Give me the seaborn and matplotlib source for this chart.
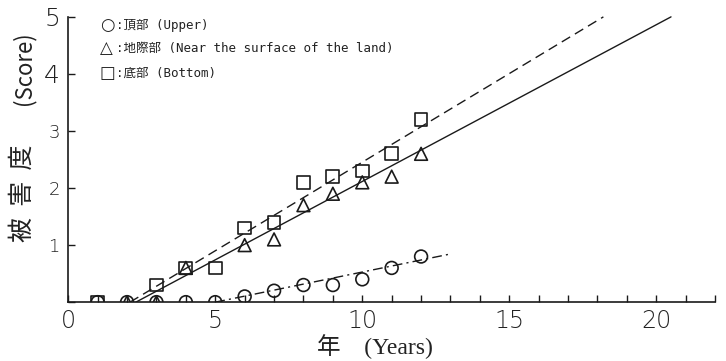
import pandas as pd
import seaborn as sns
import numpy as np
import matplotlib.pyplot as plt

# Damage score per year
years_upper = [1, 2, 3, 4, 5, 6, 7, 8, 9, 10, 11, 12]
score_upper = [0, 0, 0, 0, 0, 0.1, 0.2, 0.3, 0.3, 0.4, 0.6, 0.8]
years_land = [2, 3, 4, 6, 7, 8, 9, 10, 11, 12]
score_land = [0, 0, 0.6, 1.0, 1.1, 1.7, 1.9, 2.1, 2.2, 2.6]
years_bottom = [1, 3, 4, 5, 6, 7, 8, 9, 10, 11, 12]
score_bottom = [0, 0.3, 0.6, 0.6, 1.3, 1.4, 2.1, 2.2, 2.3, 2.6, 3.2]

# fitted regression lines (end points)
fit_upper_x = [5.0, 13.05]
fit_upper_y = [0.0, 0.85]
fit_land_x = [2.3, 20.5]
fit_land_y = [0.0, 5.0]
fit_bottom_x = [2.1, 18.2]
fit_bottom_y = [0.0, 5.0]

legend_symbols = ['○', '△', '□']
legend_texts = [':頂部 (Upper)',
                ':地際部 (Near the surface of the land)',
                ':底部 (Bottom)']

sns.set_style('ticks')
plt.rcParams['font.family'] = ['DejaVu Sans', 'Noto Sans CJK JP']

fig = plt.figure(figsize=(7.26, 3.61), dpi=100)
ax = fig.add_axes([0.094, 0.163, 0.891, 0.795])

ink = '#1a1a1a'
sns.lineplot(x=fit_bottom_x, y=fit_bottom_y, ax=ax, color=ink, lw=1.0,
             linestyle=(0, (7, 4)))
sns.lineplot(x=fit_land_x, y=fit_land_y, ax=ax, color=ink, lw=1.0)
sns.lineplot(x=fit_upper_x, y=fit_upper_y, ax=ax, color=ink, lw=1.0,
             linestyle=(0, (7, 3, 1.5, 3)))

kw = dict(ax=ax, facecolor='none', edgecolor=ink, linewidth=1.2, s=85, zorder=5)
sns.scatterplot(x=years_upper, y=score_upper, marker='o', **kw)
sns.scatterplot(x=years_land, y=score_land, marker='^', **kw)
sns.scatterplot(x=years_bottom, y=score_bottom, marker='s', **kw)

ax.set_xlim(0, 22)
ax.set_ylim(0, 5.03)
ax.spines['top'].set_visible(False)
ax.spines['right'].set_visible(False)
for s in ['left', 'bottom']:
    ax.spines[s].set_linewidth(1.2)
    ax.spines[s].set_color(ink)
ax.spines['left'].set_bounds(0, 5)

ax.set_xticks(np.arange(0, 23, 1), minor=True)
ax.set_xticks([0, 5, 10, 15, 20])
ax.set_yticks([0, 1, 2, 3, 4, 5])
ax.set_yticklabels(['', '1', '2', '3', '4', '5'])
ax.tick_params(which='both', direction='in', length=5, width=1.0, color=ink)
ax.tick_params(axis='x', labelsize=17, labelcolor='#222222', pad=5)
ax.tick_params(axis='y', labelcolor='#222222', pad=6)
for lab in ax.get_xticklabels() + ax.get_yticklabels():
    lab.set_fontweight('light')
for lab, sz in zip(ax.get_yticklabels(), [13, 13, 13, 13, 18, 18]):
    lab.set_fontsize(sz)

# axis titles
ax.set_xlabel('年　(Years)', fontsize=17, color='#222222', labelpad=0,
              family=['Liberation Serif', 'Noto Sans CJK JP'], va='center')
ax.xaxis.set_label_coords((375 - 68) / 647, -0.155)
fig.text(0.032, 1 - 68 / 361, '(Score)', rotation=90, fontsize=16,
         color='#222222', ha='center', va='center', family=['Noto Sans CJK JP'])
fig.text(0.032, 1 - 193 / 361, '被  害  度', rotation=90, fontsize=18,
         color='#222222', ha='center', va='center', family=['Noto Sans CJK JP'])

# legend written as text in the corner
for i, (sym, t) in enumerate(zip(legend_symbols, legend_texts)):
    yy = [0.965, 0.885, 0.798][i]
    ax.text(0.049, yy, sym, transform=ax.transAxes, fontsize=12,
            family=['DejaVu Sans'], color='#222222', va='center', ha='left')
    ax.text(0.074, yy, t, transform=ax.transAxes, fontsize=9.0,
            family=['DejaVu Sans Mono', 'Noto Sans CJK JP'], color='#222222',
            va='center', ha='left')

fig.savefig('out.png', dpi=100)
